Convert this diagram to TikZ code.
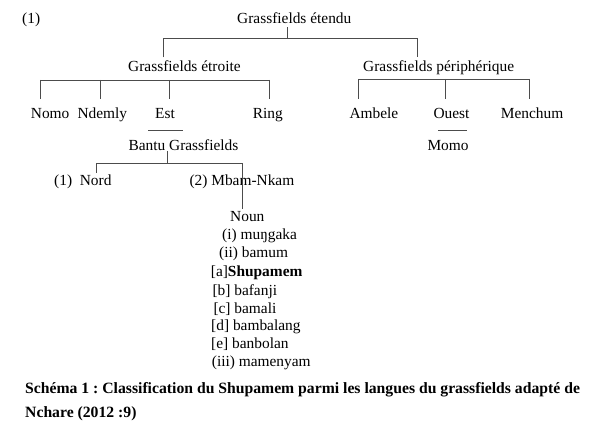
\documentclass[tikz,border=0pt]{standalone}
\usepackage{fontspec}
\setmainfont{Liberation Serif}
\usetikzlibrary{positioning}
\frenchspacing

\begin{document}
\begin{tikzpicture}[x=1pt, y=-1pt,
        font=\fontsize{15.4}{18}\selectfont,
        lang/.style={inner sep=0pt, anchor=base west},
        branch/.style={draw=black!70, line width=0.9pt}]
    \useasboundingbox (0,0) rectangle (596,435);
    % top of the tree
    \node[lang] (num) at (22,24) {(1)};
    \node[lang, text depth=3pt] (etendu) at (237,24) {Grassfields étendu};
    \node[lang, text height=14pt] (etroite) at (128,71.5) {Grassfields étroite};
    \node[lang, text height=14pt] (perif) at (363,71.5) {Grassfields périphérique};
    \coordinate (e0) at (287,38);
    \coordinate (eL) at (163,38);
    \coordinate (eR) at (417,38);
    \draw[branch] (e0 |- etendu.south) -- (e0);
    \draw[branch] (etroite.north -| eL) -- (eL) -- (eR) -- (perif.north -| eR);
    % Grassfields etroite
    \node[lang, text height=20pt] (nomo) at (30.7,119) {Nomo};
    \node[lang, text height=20pt] (ndemly) at (77.3,119) {Ndemly};
    \node[lang, text height=20pt] (est) at (155,119) {Est};
    \node[lang, text height=20pt] (ring) at (252.7,119) {Ring};
    \coordinate (s1) at (40,80);
    \coordinate (s2) at (100,80);
    \coordinate (s3) at (169,80);
    \coordinate (s4) at (269,80);
    \draw[branch] (s1) -- (s4);
    \draw[branch] (s1) -- (s1 |- nomo.north);
    \draw[branch] (s2) -- (s2 |- ndemly.north);
    \draw[branch] (s3) -- (s3 |- est.north);
    \draw[branch] (s4) -- (s4 |- ring.north);
    % Grassfields peripherique
    \node[lang, text height=20pt] (ambele) at (349.3,119) {Ambele};
    \node[lang, text height=20pt] (ouest) at (433.3,119) {Ouest};
    \node[lang, text height=20pt] (menchum) at (500.7,119) {Menchum};
    \node[lang] (momo) at (427.3,150.5) {Momo};
    \coordinate (p1) at (358,79);
    \coordinate (p2) at (445,79);
    \coordinate (p3) at (529,79);
    \draw[branch] (p1) -- (p3);
    \draw[branch] (p1) -- (p1 |- ambele.north);
    \draw[branch] (p2) -- (p2 |- ouest.north);
    \draw[branch] (p3) -- (p3 |- menchum.north);
    \coordinate (o1) at (438,130);
    \coordinate (o2) at (467,130);
    \draw[branch] (o1) -- (o2);
    % Est -> Bantu Grassfields
    \coordinate (u1) at (148,130);
    \coordinate (u2) at (183,130);
    \draw[branch] (u1) -- (u2);
    \node[lang] (bantu) at (128.3,150.5) {Bantu Grassfields};
    \node[lang, text height=13pt] (nord) at (54,186) {(1)\ \ Nord};
    \node[lang] (mbam) at (189.3,186) {(2) Mbam-Nkam};
    \node[lang, text height=12pt] (noun) at (230,221.7) {Noun};
    \coordinate (b0) at (167,163);
    \coordinate (bL) at (96,163);
    \coordinate (bR) at (242,163);
    \draw[branch] (bantu.south -| b0) -- (b0);
    \draw[branch] (nord.north -| bL) -- (bL) -- (bR) -- (noun.north -| bR);
    % Noun languages
    \node[lang] (mungaka) at (222,240) {(i) muŋgaka};
    \node[lang] (bamum) at (219,258) {(ii) bamum};
    \node[lang] (shupamem) at (210.7,276.5) {[a]\textbf{Shupamem}};
    \node[lang] (bafanji) at (212.3,295) {[b] bafanji};
    \node[lang] (bamali) at (213.3,313) {[c] bamali};
    \node[lang] (bambalang) at (211,330.5) {[d] bambalang};
    \node[lang] (banbolan) at (211,348.5) {[e] banbolan};
    \node[lang] (mamenyam) at (211.7,366.5) {(iii) mamenyam};
    % caption (base = last line)
    \node[lang, align=left, font=\bfseries\fontsize{15.7}{24.5}\selectfont] (caption) at (25,417.7)
        {Schéma 1 : Classification du Shupamem parmi les langues du grassfields adapté de\\Nchare (2012 :9)};
\end{tikzpicture}
\end{document}
